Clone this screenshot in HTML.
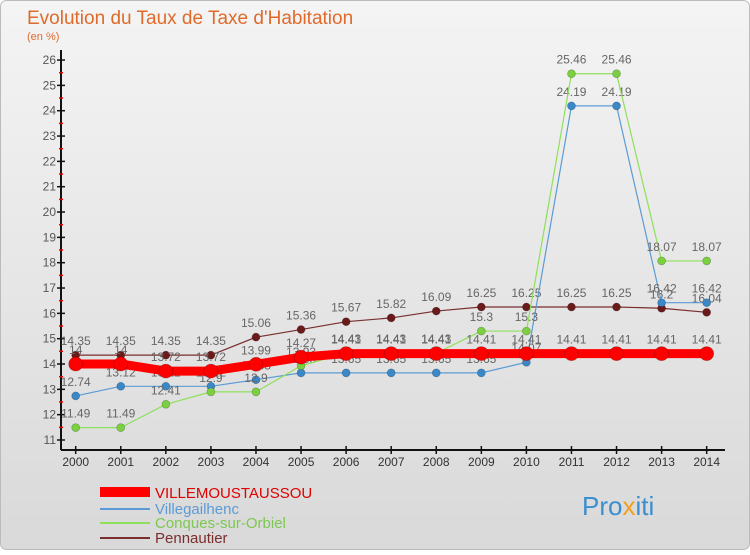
<!DOCTYPE html>
<html><head><meta charset="utf-8"><style>
body{margin:0;width:750px;height:550px;overflow:hidden;font-family:"Liberation Sans",sans-serif}
</style></head><body>
<svg id="c" width="750" height="550" xmlns="http://www.w3.org/2000/svg">
<defs><linearGradient id="bg" x1="0" y1="0" x2="0" y2="1"><stop offset="0" stop-color="#f4f4f4"/><stop offset="1" stop-color="#d9d9d9"/></linearGradient></defs>
<rect x="0.5" y="0.5" width="749" height="549" rx="6" fill="url(#bg)" stroke="#bbb"/>
<text x="27" y="24" font-size="19" fill="#e06a2a">Evolution du Taux de Taxe d'Habitation</text>
<text x="27" y="40" font-size="11" fill="#e06a2a">(en %)</text>
<g id="axes"></g><g id="series"></g>
<g>
<rect x="100" y="487" width="50" height="10" fill="#ff0000"/>
<text x="155" y="498" font-size="15" fill="#e00000">VILLEMOUSTAUSSOU</text>
<line x1="100" y1="509" x2="150" y2="509" stroke="#5b9bd5" stroke-width="2"/>
<text x="155" y="514" font-size="15" fill="#5b9bd5">Villegailhenc</text>
<line x1="100" y1="523" x2="150" y2="523" stroke="#8ee05a" stroke-width="2"/>
<text x="155" y="528" font-size="15" fill="#7cc850">Conques-sur-Orbiel</text>
<line x1="100" y1="538" x2="150" y2="538" stroke="#7a2e2e" stroke-width="2"/>
<text x="155" y="543" font-size="15" fill="#7a2e2e">Pennautier</text>
</g>
<text x="582" y="515" font-size="26" fill="#3a8fd0">Pro<tspan fill="#f0a020">x</tspan>iti</text>
</svg>
<script>
const years=[2000,2001,2002,2003,2004,2005,2006,2007,2008,2009,2010,2011,2012,2013,2014];
const villemoustaussou=[14,14,13.72,13.72,13.99,14.27,14.41,14.41,14.41,14.41,14.41,14.41,14.41,14.41,14.41];
const villegailhenc=[12.74,13.12,13.12,13.12,13.38,13.65,13.65,13.65,13.65,13.65,14.07,24.19,24.19,16.42,16.42];
const conques=[11.49,11.49,12.41,12.9,12.9,13.93,14.43,14.43,14.43,15.3,15.3,25.46,25.46,18.07,18.07];
const pennautier=[14.35,14.35,14.35,14.35,15.06,15.36,15.67,15.82,16.09,16.25,16.25,16.25,16.25,16.2,16.04];
const yTicks=[11,12,13,14,15,16,17,18,19,20,21,22,23,24,25,26];
const NS="http://www.w3.org/2000/svg";
const X=i=>75.7+i*45.07;
const Y=v=>440-(v-11)*25.33;
function mk(p,t,a){const e=document.createElementNS(NS,t);for(const k in a)e.setAttribute(k,a[k]);p.appendChild(e);return e;}
const ax=document.getElementById('axes');
let l=mk(ax,'line',{x1:61,y1:50,x2:61,y2:450,stroke:'#111','stroke-width':2});


l=mk(ax,'line',{x1:61,y1:450,x2:725,y2:450,stroke:'#111','stroke-width':2});


yTicks.forEach(v=>{
 mk(ax,'line',{x1:57,y1:Y(v),x2:65,y2:Y(v),stroke:'#111','stroke-width':1.5});
 if(v<26)mk(ax,'line',{x1:59,y1:Y(v+0.5),x2:63,y2:Y(v+0.5),stroke:'#e00','stroke-width':1.5});
 const t=mk(ax,'text',{x:56,y:Y(v)+4,'font-size':12,fill:'#555','text-anchor':'end'});
 t.textContent=v;
 
 
});
years.forEach((yr,i)=>{
 mk(ax,'line',{x1:X(i),y1:446,x2:X(i),y2:454,stroke:'#111','stroke-width':1.5});
 const t=mk(ax,'text',{x:X(i),y:466,'font-size':12,fill:'#333','text-anchor':'middle'});
 t.textContent=yr;
 
 
});
const sg=document.getElementById('series');
function series(name,data,color,lw,r,fillc,lblDy){
 const g=mk(sg,'g',{});
 
 
 mk(g,'polyline',{points:data.map((v,i)=>X(i)+','+Y(v)).join(' '),fill:'none',stroke:color,'stroke-width':lw,'stroke-linejoin':'round'});
 data.forEach((v,i)=>{
  const c=mk(g,'circle',{cx:X(i),cy:Y(v),r:r,fill:fillc,stroke:'rgba(0,0,0,0.25)','stroke-width':0.7});
  
  
  const t=mk(g,'text',{x:X(i),y:Y(v)+lblDy,'font-size':12,fill:'#666','text-anchor':'middle'});
  t.textContent=v;
  
  
 });
}
series('pennautier',pennautier,'#7a2e2e',1.2,4,'#6b1a1a',-10);
series('villegailhenc',villegailhenc,'#5b9bd5',1.2,4,'#3a88c8',-10);
series('conques',conques,'#8ee05a',1.2,4,'#7ad03e',-10);
series('villemoustaussou',villemoustaussou,'#ff0000',9,7,'#ff0000',-10);
</script>
</body></html>
